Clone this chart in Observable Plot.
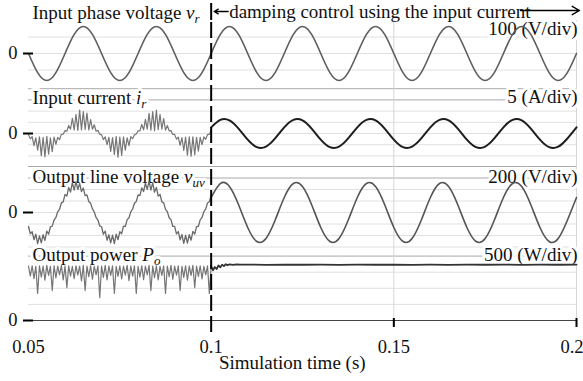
<!DOCTYPE html>
<html><head><meta charset="utf-8">
<script src="https://cdn.jsdelivr.net/npm/d3@7"></script>
<script src="https://cdn.jsdelivr.net/npm/@observablehq/plot@0.6"></script>
<style>html,body{margin:0;padding:0;background:#fff;} #chart{width:583px;height:381px;overflow:hidden;}</style>
</head><body><div id="chart"></div>
<script>
// ---------------- DATA ----------------
const timeTicks = [0.05, 0.1, 0.15, 0.2];
const timeTickLabels = ["0.05", "0.1", "0.15", "0.2"];
const switchTime = 0.1;                 // damping control starts
const fastStart = 0.05, fastStep = 0.0005;   // sampling of the rippled waveforms (before 0.1 s)
const slowStep = 0.0025;                     // sampling of the smooth waveforms

const panelTitles = [
  {main: "Input phase voltage ", sym: "v", sub: "r"},
  {main: "Input current ", sym: "i", sub: "r"},
  {main: "Output line voltage ", sym: "v", sub: "uv"},
  {main: "Output power ", sym: "P", sub: "o"}
];
const panelScaleLabels = ["100 (V/div)", "5 (A/div)", "200 (V/div)", "500 (W/div)"];
const perDiv = [100, 5, 200, 500];
const annotationText = "damping control using the input current";
const xAxisTitle = "Simulation time (s)";

// input phase voltage v_r (V), 0.05 .. 0.2 s
const vrValues = [
  0,-116,-164,-116,0,116,164,116, 0,-116,-164,-116,0,116,164,116,
  0,-116,-164,-116,0,116,164,116, 0,-116,-164,-116,0,116,164,116,
  0,-116,-164,-116,0,116,164,116, 0,-116,-164,-116,0,116,164,116,
  0,-116,-164,-116,0,116,164,116, 0,-116,-164,-116,0
];
// input current i_r (A), before damping (0.05 .. 0.1 s)
const irPreValues = [
  -0.5,-2.4,-1.4,-5.4,-1.9,-7.4,-1.5,-9.9,-1.7,-10.4,-1.3,-9.2,-1.9,-8.1,-1.6,-4.8,-1.7,-2.7,-0.4,-0.3,
  1.3,1.0,3.6,1.9,6.8,1.6,8.5,1.4,10.5,1.6,9.8,1.8,9.1,1.6,6.2,1.9,3.9,1.0,1.4,-0.3,
  -0.6,-2.7,-1.5,-5.0,-1.7,-8.0,-1.8,-9.3,-1.4,-10.6,-1.6,-9.8,-1.5,-7.4,-1.9,-5.4,-1.4,-2.3,-0.6,-0.2,
  1.2,1.2,4.0,1.6,6.3,1.9,9.0,1.5,9.8,1.3,10.4,1.7,8.5,1.9,6.7,1.5,3.6,1.2,1.3,-0.4,
  -0.4,-2.5,-1.6,-5.3,-1.8,-7.6,-1.6,-9.7,-1.5,-10.1,-1.5,-9.5,-1.7,-7.9,-1.7,-5.0,-1.5,-2.6,-0.5,-0.3,1.3
];
// input current i_r (A), with damping (0.1 .. 0.2 s)
const irPostValues = [
  2.75,6.11,5.89,2.22,-2.75,-6.11,-5.89,-2.22, 2.75,6.11,5.89,2.22,-2.75,-6.11,-5.89,-2.22,
  2.75,6.11,5.89,2.22,-2.75,-6.11,-5.89,-2.22, 2.75,6.11,5.89,2.22,-2.75,-6.11,-5.89,-2.22,
  2.75,6.11,5.89,2.22,-2.75,-6.11,-5.89,-2.22, 2.75
];
// output line voltage v_uv (V), before damping
const vuvPreValues = [
  -243,-369,-335,-473,-376,-540,-405,-529,-387,-486,-324,-378,-248,-236,-131,-86,16,56,167,185,
  315,286,437,356,518,389,536,401,506,365,425,295,306,191,160,63,9,-86,-131,-234,
  -248,-378,-324,-482,-387,-529,-394,-540,-376,-473,-335,-369,-239,-243,-124,-92,11,61,160,191,
  306,295,428,365,509,401,545,389,518,356,437,286,313,185,167,56,16,-92,-124,-243,
  -241,-373,-331,-475,-383,-536,-396,-533,-385,-482,-328,-376,-245,-239,-129,-86,14,58,166,186,311
];
// output line voltage v_uv (V), with damping
const vuvPostValues = [
  261,504,452,135,-261,-504,-452,-135, 261,504,452,135,-261,-504,-452,-135,
  261,504,452,135,-261,-504,-452,-135, 261,504,452,135,-261,-504,-452,-135,
  261,504,452,135,-261,-504,-452,-135, 261
];
// output power P_o (W), before damping
const poPreValues = [
  1690,1380,1700,1300,1680,840,1700,1350,1690,1250,1710,1400,1680,930,1700,1320,1690,1420,1710,1260,
  1690,1020,1700,1380,1680,1300,1700,1410,1690,1230,1710,930,1690,1360,1700,1280,1680,1420,1700,710,
  1690,1340,1710,1260,1690,1400,1700,840,1680,1370,1700,1290,1690,1410,1710,1240,1690,1380,1700,840,
  1680,1350,1700,1270,1690,1420,1710,930,1690,1330,1700,1260,1680,1400,1700,840,1690,1360,1710,1280,
  1690,1410,1700,930,1680,1340,1700,1250,1690,1400,1710,1020,1690,1370,1700,1290,1680,1420,1700,840,1690
];
// output power P_o (W), with damping
const poPostTimes = [0.1,0.1005,0.101,0.1015,0.102,0.1025,0.103,0.1035,0.104,0.1045,0.105,0.106,0.107,0.108,0.11,
  0.115,0.12,0.125,0.13,0.135,0.14,0.145,0.15,0.155,0.16,0.165,0.17,0.175,0.18,0.185,0.19,0.195,0.2];
const poPostValues = [1690,1560,1660,1600,1710,1650,1735,1690,1750,1715,1745,1728,1742,1733,1738,
  1730,1737,1731,1736,1729,1735,1732,1738,1730,1734,1729,1736,1731,1735,1730,1737,1732,1734];

// ---------------- LAYOUT ----------------
const AXIS_PX = 320, UNIT_PX = 16.1;          // global y unit = one division of the power panel
const py = px => (AXIS_PX - px) / UNIT_PX;   // layout helper (pixel row -> global y)
const panels = [
  {zeroPx: 53,  divPx: 16.5, titleBase: 18,  scaleBase: 34,  grid: [-1,0,1],            strong: []},
  {zeroPx: 133, divPx: 11.2, titleBase: 103, scaleBase: 102, grid: [-2,-1,0,1,2,3,4],   strong: [3,4]},
  {zeroPx: 212, divPx: 11.5, titleBase: 182, scaleBase: 182, grid: [-3,-2,-1,0,1,2,3,4], strong: [3,4]},
  {zeroPx: 320, divPx: 16.1, titleBase: 260, scaleBase: 260, grid: [1,2,3,4],           strong: [4]}
];
panels.forEach((p, i) => { p.perDiv = perDiv[i]; p.base = py(p.zeroPx); p.gain = p.divPx / UNIT_PX; });
const yOf = (p, v) => p.base + (v / p.perDiv) * p.gain;
const grid = (t0, dt, vals, p) => vals.map((v, i) => ({t: t0 + i * dt, y: yOf(p, v)}));
const paired = (ts, vals, p) => vals.map((v, i) => ({t: ts[i], y: yOf(p, v)}));

const [P1, P2, P3, P4] = panels;
const vr = grid(fastStart, slowStep, vrValues, P1);
const irPre = grid(fastStart, fastStep, irPreValues, P2);
const irPost = grid(switchTime, slowStep, irPostValues, P2);
const vuvPre = grid(fastStart, fastStep, vuvPreValues, P3);
const vuvPost = grid(switchTime, slowStep, vuvPostValues, P3);
const poPre = grid(fastStart, fastStep, poPreValues, P4);
const poPost = paired(poPostTimes, poPostValues, P4);

const gridLight = [], gridStrong = [];
panels.forEach(p => p.grid.forEach(l => (p.strong.includes(l) ? gridStrong : gridLight).push({y: p.base + l * p.gain})));

const titleRows = panelTitles.map((d, i) => ({text: d.main + d.sym + d.sub, t: 0.0511, y: py(panels[i].titleBase)}));
const scaleRows = panelScaleLabels.map((s, i) => ({text: s, t: 0.2, y: py(panels[i].scaleBase)}));
const zeroTicks = panels.map(p => p.base);
const tickRows = timeTicks.map((t, i) => ({t, text: timeTickLabels[i], last: i === timeTicks.length - 1}));

const FONT = "Liberation Serif";
const FS = 19;
const plot = Plot.plot({
  width: 583, height: 381,
  marginLeft: 28, marginRight: 7, marginTop: 0, marginBottom: 61,
  x: {domain: [0.05, 0.2], axis: null},
  y: {domain: [0, py(0)], axis: null},
  style: {fontFamily: FONT, fontSize: FS + "px", background: "#fff", color: "#111", overflow: "visible"},
  marks: [
    Plot.ruleY(gridLight, {y: "y", x1: 0.05, x2: 0.2, stroke: "#e0e0e0", strokeWidth: 1}),
    Plot.ruleY(gridStrong, {y: "y", x1: 0.05, x2: 0.2, stroke: "#a9a9a9", strokeWidth: 1}),
    Plot.ruleX([0.15, 0.2], {y1: py(20), y2: 0, stroke: "#d6d6d6", strokeWidth: 1}),
    Plot.ruleY([0], {x1: 0.05, x2: 0.2, stroke: "#444", strokeWidth: 1.2}),
    Plot.ruleX([0.15, 0.2], {y1: py(318), y2: py(327), stroke: "#000", strokeWidth: 2}),
    Plot.text(titleRows, {x: "t", y: "y", text: "text", textAnchor: "start", lineAnchor: "bottom", fontSize: FS, fill: "#111", stroke: "#fff", strokeWidth: 6}),
    Plot.text(scaleRows, {x: "t", y: "y", text: "text", textAnchor: "end", lineAnchor: "bottom", dx: 1, fontSize: FS, fill: "#111", stroke: "#fff", strokeWidth: 6}),
    Plot.line(vr, {x: "t", y: "y", curve: "natural", stroke: "#5e5e5e", strokeWidth: 1.6}),
    Plot.line(irPre, {x: "t", y: "y", stroke: "#767676", strokeWidth: 1.2}),
    Plot.line(irPost, {x: "t", y: "y", curve: "natural", stroke: "#1e1e1e", strokeWidth: 2}),
    Plot.line(vuvPre, {x: "t", y: "y", stroke: "#6a6a6a", strokeWidth: 1.3}),
    Plot.line(vuvPost, {x: "t", y: "y", curve: "natural", stroke: "#555", strokeWidth: 1.6}),
    Plot.line(poPre, {x: "t", y: "y", stroke: "#767676", strokeWidth: 1.2}),
    Plot.line(poPost, {x: "t", y: "y", stroke: "#333", strokeWidth: 1.8}),
    Plot.ruleX([switchTime], {y1: py(22), y2: py(336), stroke: "#000", strokeWidth: 2, strokeDasharray: "16,5"}),
    Plot.ruleX([switchTime], {y1: py(3), y2: py(20), stroke: "#000", strokeWidth: 2}),
    Plot.arrow([{x1: 0.10464, x2: 0.10082, y: py(11)}, {x1: 0.1847, x2: 0.20082, y: py(10)}],
      {x1: "x1", x2: "x2", y1: "y", y2: "y", stroke: "#000", strokeWidth: 1.4, headLength: 9}),
    Plot.text([{text: annotationText, t: 0.10492, y: py(17)}], {x: "t", y: "y", text: "text", textAnchor: "start", lineAnchor: "bottom", fontSize: FS, fill: "#111"}),
    Plot.text([{text: xAxisTitle, t: 0.1222, y: py(368)}], {x: "t", y: "y", text: "text", textAnchor: "middle", lineAnchor: "bottom", fontSize: FS, fill: "#111"}),
    Plot.text(tickRows.filter(d => !d.last), {x: "t", y: py(352), text: "text", textAnchor: "middle", lineAnchor: "bottom", fontSize: 18.5, fill: "#111"}),
    Plot.text(tickRows.filter(d => d.last), {x: "t", y: py(352), text: "text", textAnchor: "end", dx: 7, lineAnchor: "bottom", fontSize: 18.5, fill: "#111"}),
    Plot.axisY(zeroTicks, {anchor: "left", tickSize: 10, tickPadding: 6, dx: 5, fontSize: 18.5, label: null,
      strokeWidth: 2, stroke: "#000", tickFormat: () => "0"})
  ]
});

// italic symbol + subscript for panel titles
const NS = "http://www.w3.org/2000/svg";
plot.querySelectorAll("text").forEach(el => {
  const m = panelTitles.find(p => el.textContent === p.main + p.sym + p.sub);
  if (!m) return;
  el.textContent = "";
  const a = document.createElementNS(NS, "tspan"); a.textContent = m.main;
  const b = document.createElementNS(NS, "tspan"); b.textContent = m.sym; b.setAttribute("font-style", "italic");
  const c = document.createElementNS(NS, "tspan"); c.textContent = m.sub; c.setAttribute("font-style", "italic");
  c.setAttribute("font-size", "13"); c.setAttribute("dy", "4");
  el.append(a, b, c);
});
document.getElementById("chart").append(plot);
</script>
</body></html>
